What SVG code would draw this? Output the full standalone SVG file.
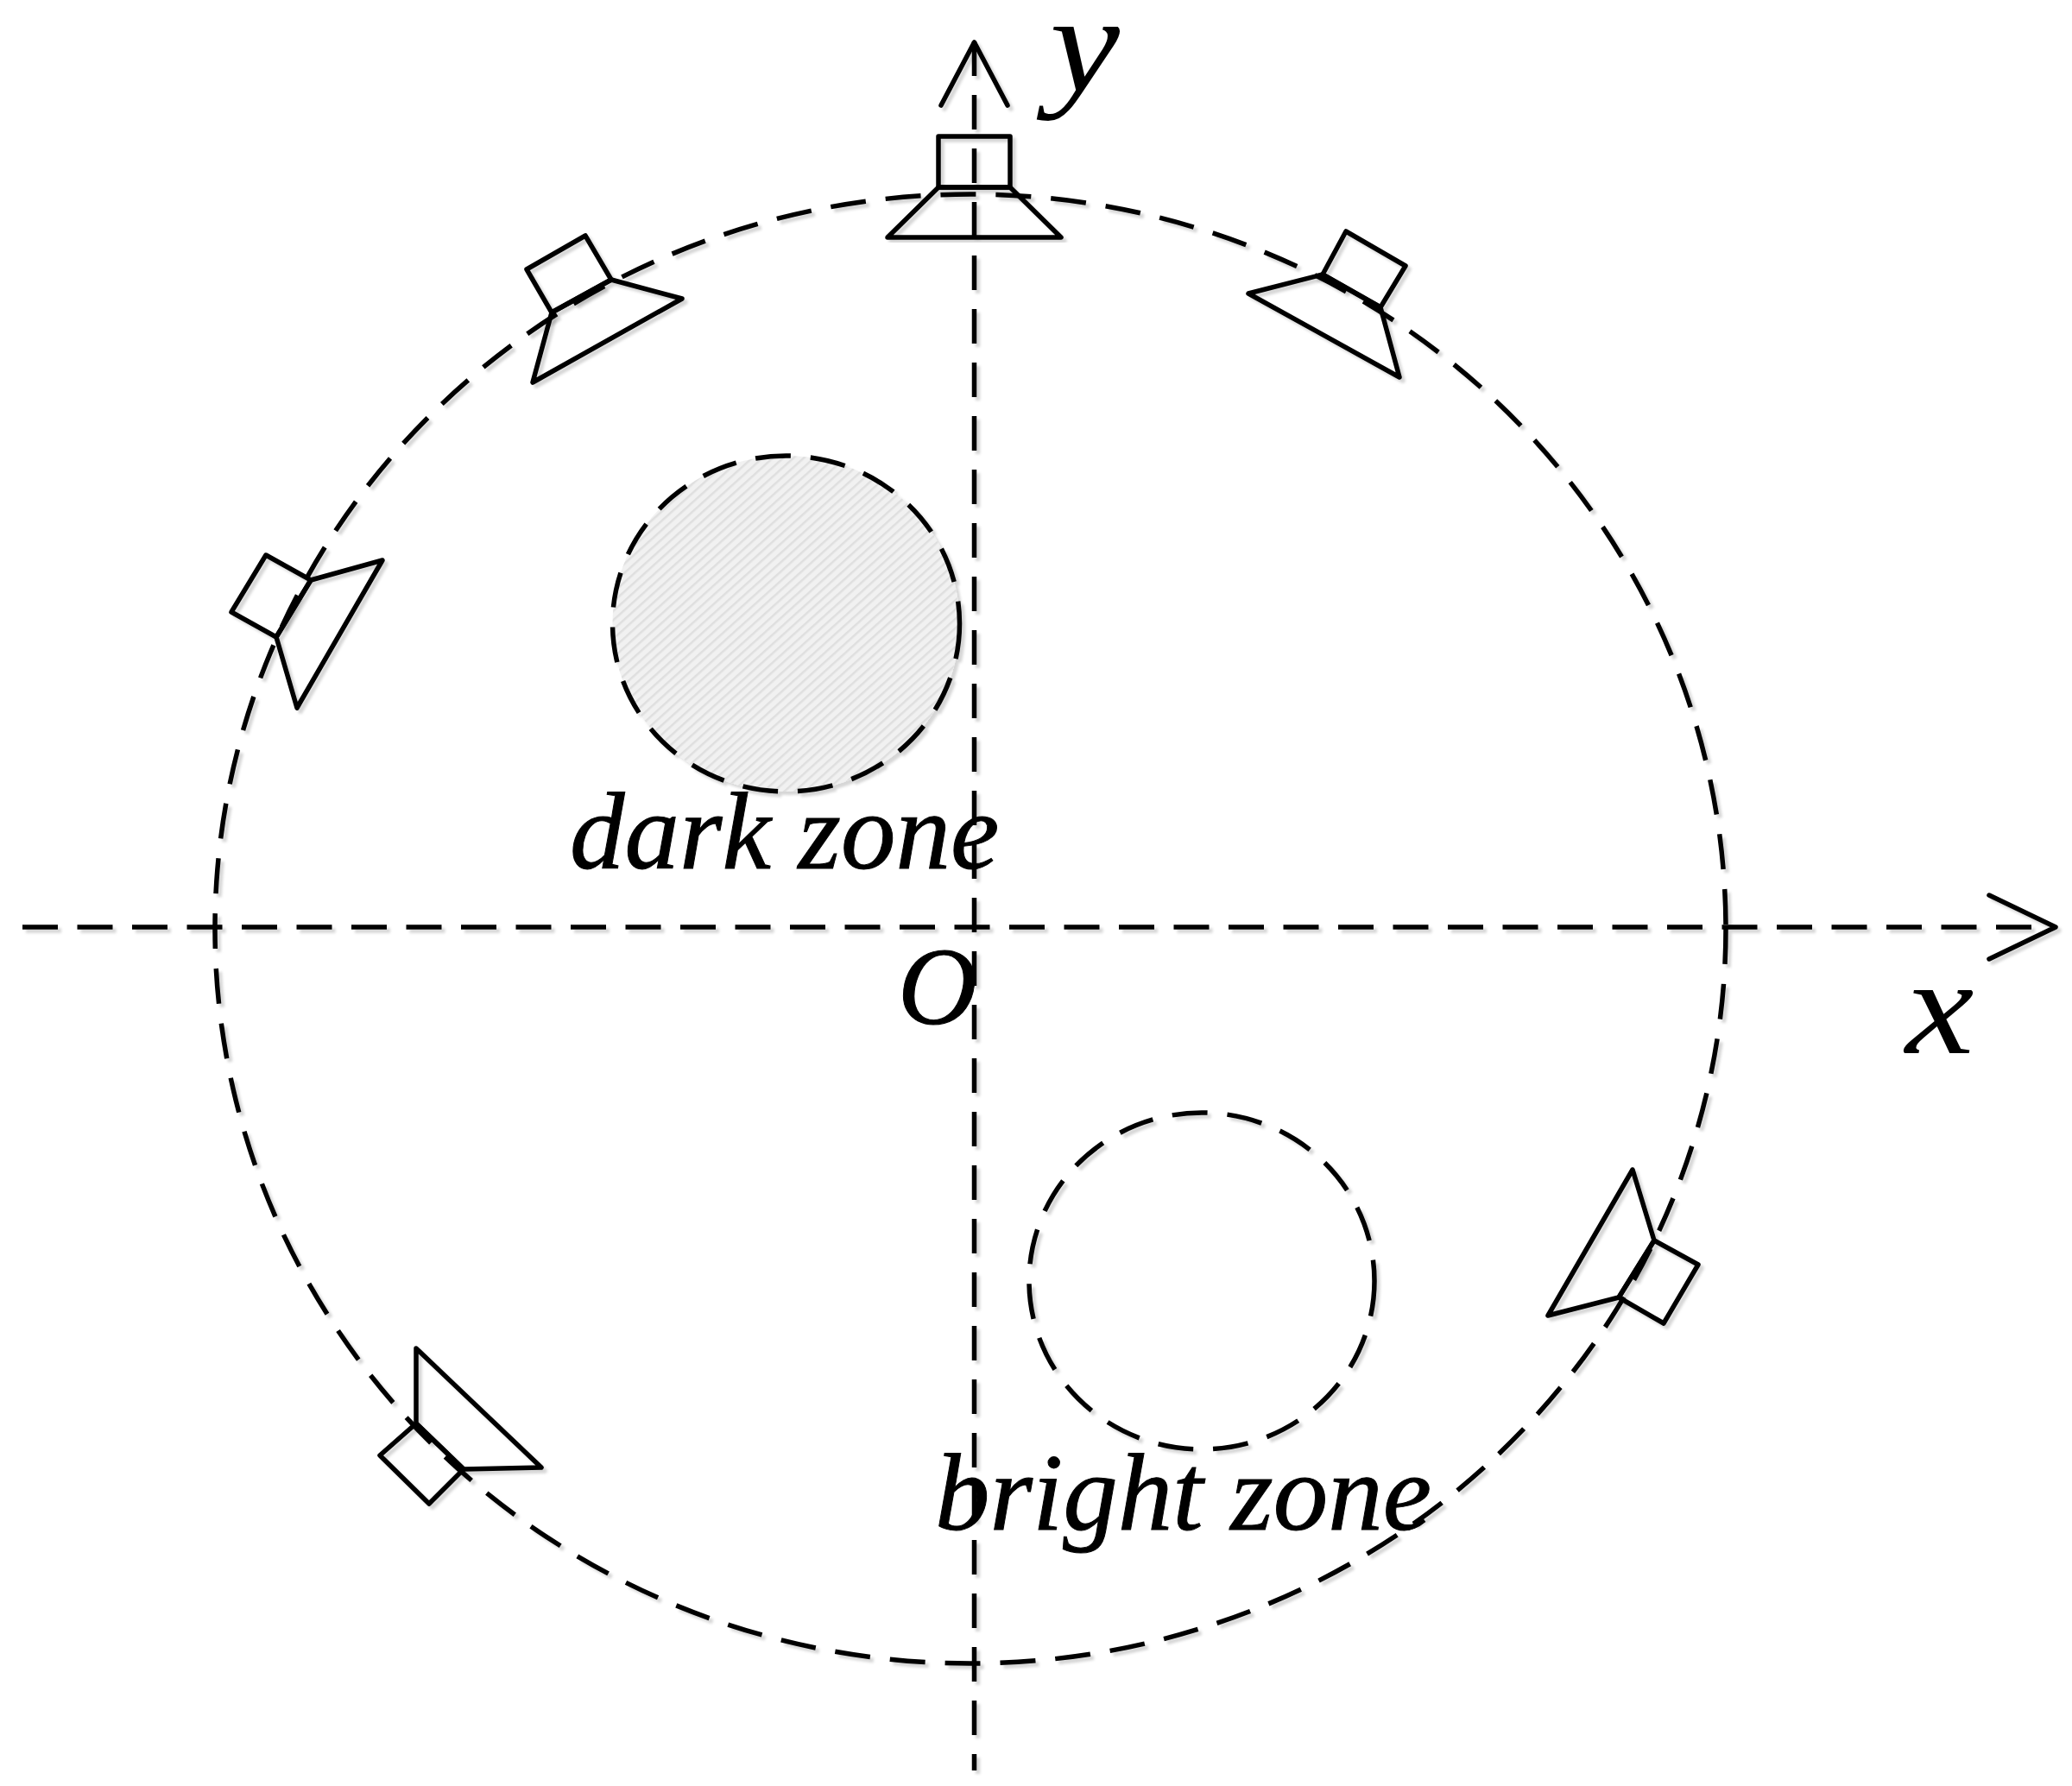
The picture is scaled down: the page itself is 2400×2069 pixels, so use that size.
<svg xmlns="http://www.w3.org/2000/svg" width="2400" height="2069" viewBox="0 0 2400 2069">
  <style>
    .dash { fill: none; stroke: #000; stroke-width: 5.5; stroke-dasharray: 41 23; }
    .solid { fill: none; stroke: #000; stroke-width: 5.5; stroke-linejoin: round; stroke-linecap: round; }
    text { font-family: "Liberation Serif", "Times New Roman", serif; font-style: italic; fill: #000; }
    .zone { font-size: 127px; stroke: #000; stroke-width: 1; }
    .axis { font-size: 160px; }
  </style>
  <defs>
    <filter id="shadow" x="-5%" y="-5%" width="110%" height="110%">
      <feDropShadow dx="4" dy="4" stdDeviation="1.5" flood-color="#000" flood-opacity="0.16"/>
    </filter>
    <pattern id="hatch" width="8" height="8" patternUnits="userSpaceOnUse" patternTransform="rotate(-42)">
      <rect width="8" height="8" fill="#f1f1f1"/>
      <rect width="8" height="2.5" fill="#dfdfdf"/>
    </pattern>
  </defs>
  <rect width="2400" height="2069" fill="#fff"/>
  <g id="connectors" filter="url(#shadow)">
    <ellipse id="boundary" class="dash" cx="1124" cy="1076" rx="875" ry="851"/>
    <line id="x-axis" class="dash" x1="26" y1="1074" x2="2360" y2="1074" style="stroke-dasharray:41 22.5"/>
    <polyline id="x-arrow" class="solid" points="2304,1037 2381,1074 2304,1111"/>
    <line id="y-axis" class="dash" x1="1128.5" y1="48" x2="1128.5" y2="2051" style="stroke-dasharray:40 22"/>
    <polyline id="y-arrow" class="solid" points="1090,122 1128.5,49 1167,122"/>
  </g>
  <g id="dark-zone" filter="url(#shadow)">
    <ellipse cx="910.5" cy="722.5" rx="201" ry="194.5" fill="url(#hatch)" stroke="none"/>
    <ellipse class="dash" cx="910.5" cy="722.5" rx="201" ry="194.5"/>
  </g>
  <g id="bright-zone" filter="url(#shadow)">
    <ellipse class="dash" cx="1392" cy="1484" rx="200" ry="195"/>
  </g>
  <g id="speaker-top" filter="url(#shadow)">
    <polygon class="solid" points="1087,158 1170,158 1170,217 1087,217"/>
    <polygon class="solid" points="1087,217 1170,217 1229,275 1028,275"/>
  </g>
  <g id="speaker-top-left" filter="url(#shadow)">
    <polygon class="solid" points="610,312 678,273 708,324 639,362"/>
    <polygon class="solid" points="708,324 790,346 617,443 639,362"/>
  </g>
  <g id="speaker-top-right" filter="url(#shadow)">
    <polygon class="solid" points="1559,268 1628,308 1599,356 1532,318"/>
    <polygon class="solid" points="1532,318 1599,356 1621,437 1446,340"/>
  </g>
  <g id="speaker-left" filter="url(#shadow)">
    <polygon class="solid" points="308,643 360,672 320,738 268,709"/>
    <polygon class="solid" points="360,672 443,649 344,820 320,738"/>
  </g>
  <g id="speaker-lower-left" filter="url(#shadow)">
    <polygon class="solid" points="482,1649 537,1702 497,1742 440,1686"/>
    <polygon class="solid" points="482,1649 482,1562 627,1700 537,1702"/>
  </g>
  <g id="speaker-right" filter="url(#shadow)">
    <polygon class="solid" points="1916,1437 1967,1465 1927,1533 1875,1503"/>
    <polygon class="solid" points="1916,1437 1891,1355 1793,1524 1875,1503"/>
  </g>
  <g id="labels">
    <text class="zone" x="660" y="1006">dark zone</text>
    <text class="zone" x="1083" y="1772">bright zone</text>
    <text class="zone" x="1040" y="1186">O</text>
    <text class="axis" transform="translate(2207,1220) scale(1.12,1)">x</text>
    <text class="axis" transform="translate(1216,106) scale(1.14,1)">y</text>
  </g>
</svg>
